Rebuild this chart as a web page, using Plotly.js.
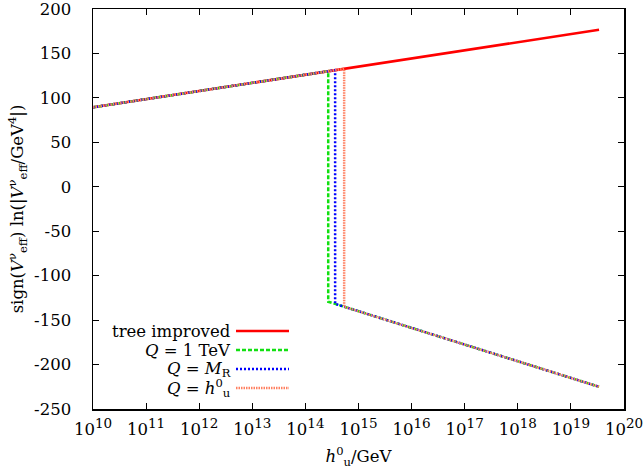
<!DOCTYPE html>
<html>
<head>
<meta charset="utf-8">
<script src="https://cdn.plot.ly/plotly-3.0.1.min.js"></script>
<style>html,body{margin:0;padding:0;background:#fff;}#chart{width:644px;height:472px;}</style>
</head>
<body>
<div id="chart"></div>
<script>
// Data (x in GeV, y = sign(V) ln|V/GeV^4|)
const treeX = [1e10, 3.39e19];
const treeY = [89.4, 176.7];
const q1TeVX = [1e10, 2.69e14, 2.69e14, 3.39e19];
const q1TeVY = [89.4, 130.0, -129.3, -225.0];
const qMRX = [1e10, 3.63e14, 3.63e14, 3.39e19];
const qMRY = [89.4, 131.2, -131.7, -225.0];
const qHX = [1e10, 5.37e14, 5.37e14, 3.39e19];
const qHY = [89.4, 132.7, -135.0, -225.0];
const seriesNames = ['tree improved', '<i>Q</i> = 1 TeV', '<i>Q</i> = <i>M</i><sub>R</sub>', '<i>Q</i> = <i>h</i><sup>0</sup><sub>u</sub>'];
const xTickVals = [1e10,1e11,1e12,1e13,1e14,1e15,1e16,1e17,1e18,1e19,1e20];
const xExponents = ['10','11','12','13','14','15','16','17','18','19','20'];
const yTickVals = [-250,-200,-150,-100,-50,0,50,100,150,200];
const yTickText = ['-250','-200','-150','-100','-50','0','50','100','150','200'];

const colors = ['#ff0000', '#11e011', '#0000ff', '#ff8060'];
const dashes = ['solid', '4px,2px', '2px,2px', '1.5px,1px'];
const FONT = 'DejaVu Serif';
const FS = 16.5;

const xTickText = xExponents.map(e => '10<sup><span style="font-size:13.5px">' + e + '</span></sup>');

const traces = [
  {x: treeX, y: treeY},
  {x: q1TeVX, y: q1TeVY},
  {x: qMRX, y: qMRY},
  {x: qHX, y: qHY}
].map((t, i) => ({
  x: t.x, y: t.y, type: 'scatter', mode: 'lines', name: seriesNames[i],
  line: {color: colors[i], width: 2.5, dash: dashes[i]}, showlegend: false
}));

// plot area in pixels
const L = 93, R = 624, T = 9, B = 409;
const px = x => (x - L) / (R - L);
const py = y => (B - y) / (B - T);

const annotations = [];
const shapes = [];
const rowY = [331, 350, 369, 388];
seriesNames.forEach((n, i) => {
  annotations.push({xref: 'paper', yref: 'paper', x: px(233), y: py(rowY[i]), xanchor: 'right', yanchor: 'middle',
    text: n, showarrow: false, font: {family: FONT, size: FS, color: '#000'}});
  shapes.push({type: 'line', xref: 'paper', yref: 'paper', x0: px(236), x1: px(289), y0: py(rowY[i]), y1: py(rowY[i]),
    line: {color: colors[i], width: 2.5, dash: dashes[i]}});
});

const layout = {
  width: 644, height: 472,
  margin: {l: L, r: 644 - R, t: T, b: 472 - B},
  paper_bgcolor: '#fff', plot_bgcolor: '#fff',
  font: {family: FONT, size: FS, color: '#000'},
  showlegend: false,
  xaxis: {
    type: 'log', range: [10, 20.0001], tickvals: xTickVals, ticktext: xTickText,
    ticks: 'inside', ticklen: 6, tickwidth: 1, tickcolor: '#000', mirror: 'allticks',
    showline: true, linecolor: '#000', linewidth: 1.5, showgrid: false, zeroline: false,
    tickfont: {family: FONT, size: FS}, ticklabelstandoff: 5, ticklabeloverflow: 'allow',
    title: {text: '<i>h</i><sup>0</sup><sub>u</sub>/GeV', font: {family: FONT, size: FS}, standoff: 12}
  },
  yaxis: {
    range: [-250.0001, 200.0001], tickvals: yTickVals, ticktext: yTickText,
    ticks: 'inside', ticklen: 6, tickwidth: 1, tickcolor: '#000', mirror: 'allticks',
    showline: true, linecolor: '#000', linewidth: 1.5, showgrid: false, zeroline: false,
    tickfont: {family: FONT, size: FS}, ticklabelstandoff: 17, ticklabeloverflow: 'allow',
    title: {text: 'sign(<i>V</i><sup>ν</sup><sub>eff</sub>) ln(|<i>V</i><sup>ν</sup><sub>eff</sub>/GeV<sup>4</sup>|)', font: {family: FONT, size: FS}, standoff: 6}
  },
  annotations: annotations,
  shapes: shapes
};

Plotly.newPlot('chart', traces, layout, {displayModeBar: false, staticPlot: true});
</script>
</body>
</html>
